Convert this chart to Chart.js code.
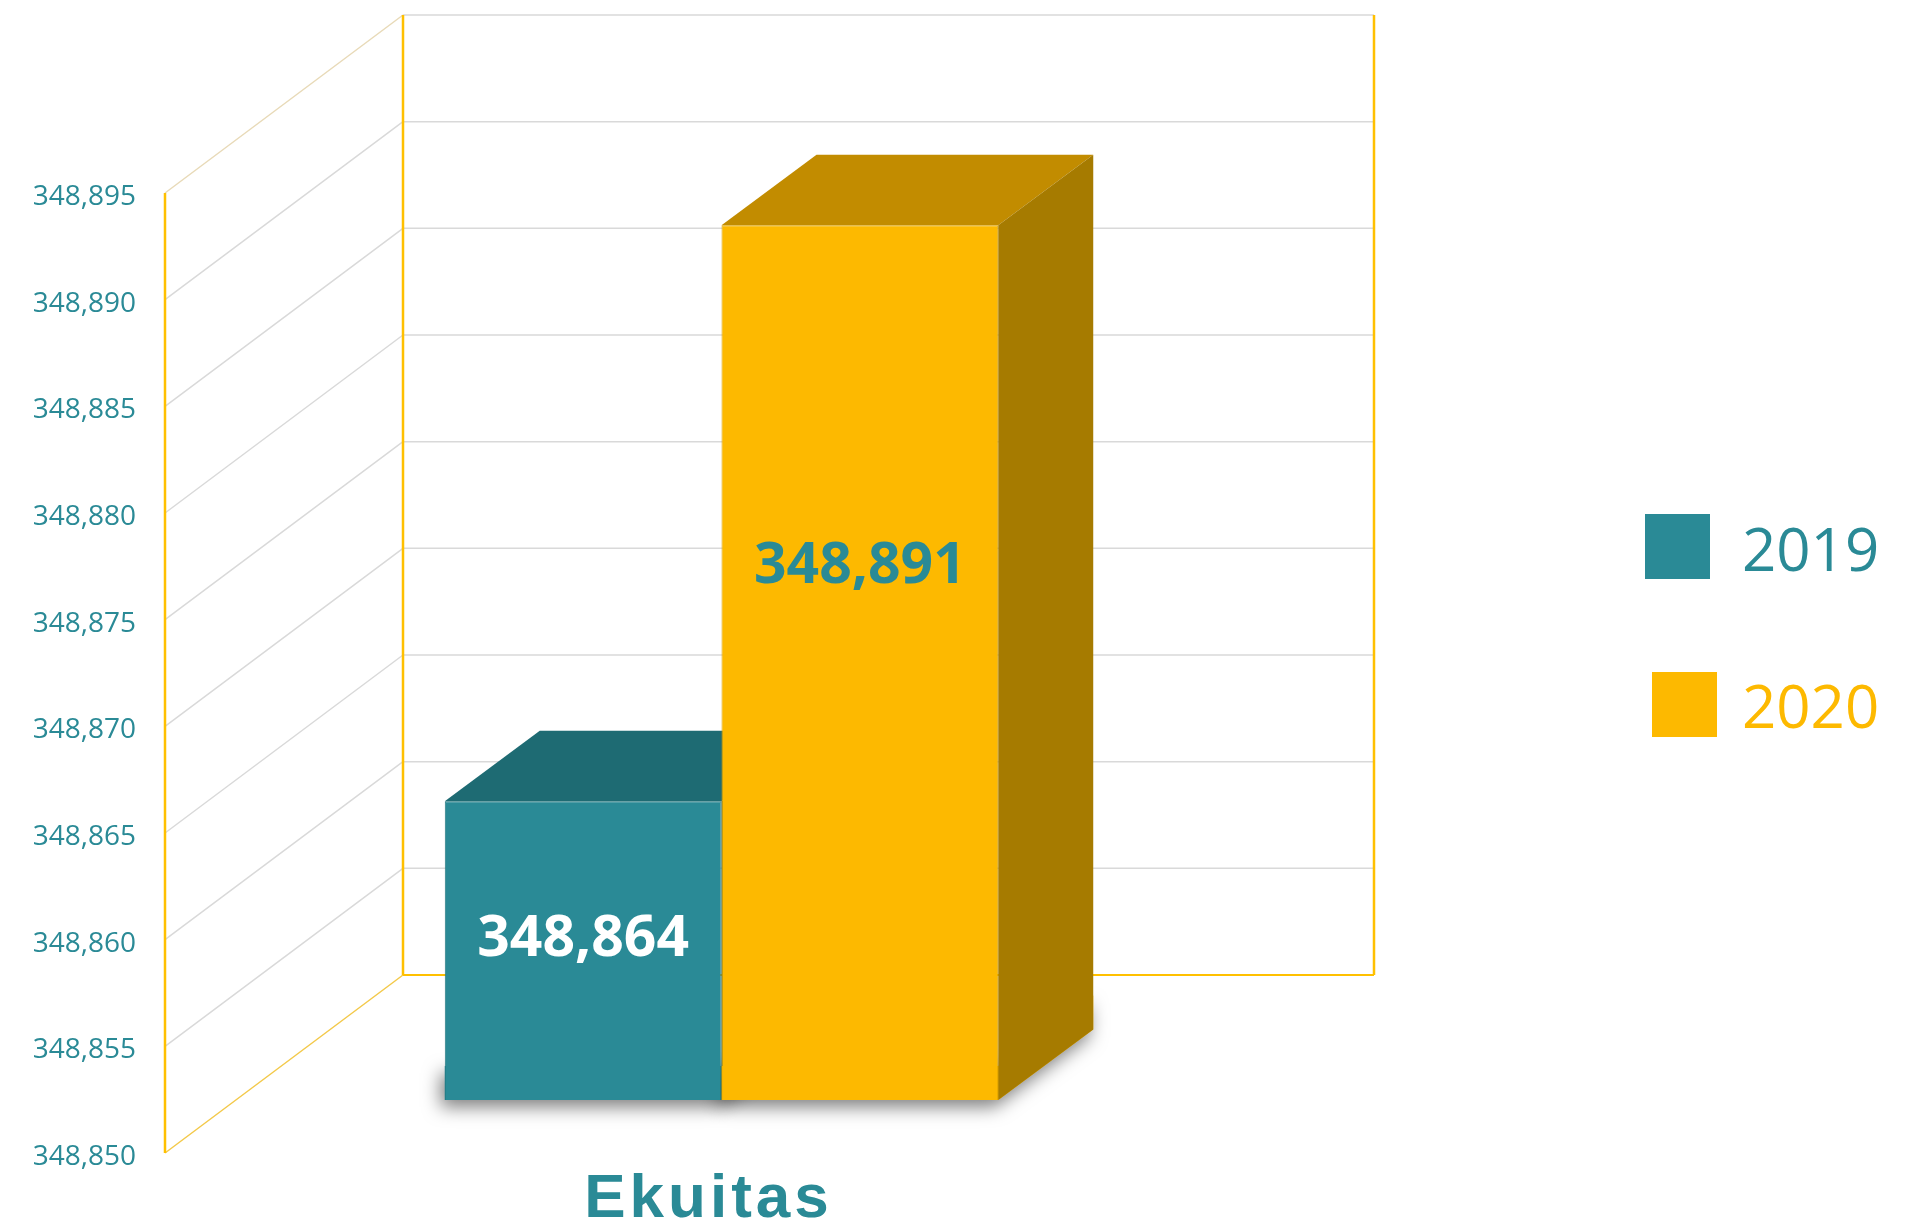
<!DOCTYPE html>
<html>
<head>
<meta charset="utf-8">
<script src="https://cdn.jsdelivr.net/npm/chart.js@4.4.1/dist/chart.umd.min.js"></script>
<style>
html, body { margin: 0; padding: 0; background: #fff; }
#wrap { width: 1914px; height: 1226px; position: relative; }
</style>
</head>
<body>
<div id="wrap"><canvas id="c"></canvas></div>
<script>
// ================= DATA =================
const categories = ['Ekuitas'];
const seriesNames = ['2019', '2020'];
const values2019 = [348864];
const values2020 = [348891];
const yMin = 348850;
const yMax = 348895;
const yStep = 5;

// ================= LOOK =================
const TEAL = '#2A8A96';
const GOLD = '#FDB900';
const faces = [
    { front: TEAL, border: '#23777f', top: '#1E6B73', side: '#17585f', label: '#ffffff' },
    { front: GOLD, border: '#dba100', top: '#C28C00', side: '#A67B00', label: TEAL }
];
const labelPos = [0.465, 0.39]; // where the value sits inside each bar (0 = top)

const WALL_DX = 238, WALL_DY = -178;  // floor / back wall depth
const BAR_DX = 71, BAR_DY = -53;      // bar row sits a bit inside the box
const CUBE_DX = 95, CUBE_DY = -70.5;  // depth of a bar

const fmt = v => Number(v).toLocaleString('en-US');

function poly(ctx, pts, fill) {
    ctx.beginPath();
    ctx.moveTo(pts[0][0], pts[0][1]);
    for (let i = 1; i < pts.length; i++) ctx.lineTo(pts[i][0], pts[i][1]);
    ctx.closePath();
    ctx.fillStyle = fill;
    ctx.fill();
}

function line(ctx, x0, y0, x1, y1, color, w) {
    ctx.beginPath();
    ctx.moveTo(x0, y0);
    ctx.lineTo(x1, y1);
    ctx.strokeStyle = color;
    ctx.lineWidth = w;
    ctx.stroke();
}

// ================= 3D PLUGIN =================
const box3d = {
    id: 'box3d',
    beforeDraw(chart) {
        // wide letter spacing for the category label only
        const xs = chart.scales.x;
        if (!xs._spaced) {
            const orig = xs.drawLabels.bind(xs);
            xs.drawLabels = (area) => {
                chart.ctx.save();
                chart.ctx.letterSpacing = '4px';
                orig(area);
                chart.ctx.restore();
            };
            xs._spaced = true;
        }
    },
    beforeDatasetsDraw(chart) {
        const { ctx, chartArea: a, scales: { y } } = chart;
        ctx.save();

        // walls / grid
        const n = y.ticks.length;
        y.ticks.forEach((t, i) => {
            const py = y.getPixelForValue(t.value);
            let diag = '#d9d9d9', back = '#d9d9d9', w = 1.5;
            if (i === 0) { diag = '#f3c94a'; back = '#FFC000'; w = 2; }
            if (i === n - 1) { diag = '#e8dab8'; }
            line(ctx, a.left, py, a.left + WALL_DX, py + WALL_DY, diag, 1.5);
            line(ctx, a.left + WALL_DX, py + WALL_DY, a.right + WALL_DX, py + WALL_DY, back, w);
        });
        const yTop = y.getPixelForValue(yMax), yBot = y.getPixelForValue(yMin);
        line(ctx, a.left, yTop, a.left, yBot, '#FFC000', 2.5);
        line(ctx, a.left + WALL_DX, yTop + WALL_DY, a.left + WALL_DX, yBot + WALL_DY, '#FFC000', 2.5);
        line(ctx, a.right + WALL_DX, yTop + WALL_DY, a.right + WALL_DX, yBot + WALL_DY, '#FFC000', 2.5);

        // soft shadow at the foot of each bar, then top/side faces
        chart.data.datasets.forEach((ds, di) => {
            const meta = chart.getDatasetMeta(di);
            meta.data.forEach(bar => {
                const x0 = bar.x - bar.width / 2 + BAR_DX;
                const x1 = bar.x + bar.width / 2 + BAR_DX;
                const yt = bar.y + BAR_DY;
                const yb = bar.base + BAR_DY;
                const f = faces[di];
                const h = Math.min(34, yb - yt);
                ctx.save();
                ctx.shadowColor = 'rgba(0,0,0,0.5)';
                ctx.shadowBlur = 18;
                ctx.shadowOffsetX = -4;
                ctx.shadowOffsetY = 7;
                poly(ctx, [[x0, yb - h], [x0, yb], [x1, yb], [x1 + CUBE_DX, yb + CUBE_DY],
                           [x1 + CUBE_DX, yb + CUBE_DY - h], [x1, yb - h]], f.front);
                ctx.restore();
                poly(ctx, [[x0, yt], [x1, yt], [x1 + CUBE_DX, yt + CUBE_DY], [x0 + CUBE_DX, yt + CUBE_DY]], f.top);
                poly(ctx, [[x1, yt], [x1 + CUBE_DX, yt + CUBE_DY], [x1 + CUBE_DX, yb + CUBE_DY], [x1, yb]], f.side);
            });
        });
        ctx.restore();

        // front faces are drawn by Chart.js, moved into the bar row
        ctx.save();
        ctx.translate(BAR_DX, BAR_DY);
    },
    afterDatasetsDraw(chart) {
        const ctx = chart.ctx;
        ctx.restore();

        // value labels
        ctx.save();
        ctx.textAlign = 'center';
        ctx.textBaseline = 'middle';
        ctx.font = 'bold 57px "Open Sans"';
        chart.data.datasets.forEach((ds, di) => {
            chart.getDatasetMeta(di).data.forEach((bar, i) => {
                const yt = bar.y + BAR_DY, yb = bar.base + BAR_DY;
                ctx.fillStyle = faces[di].label;
                ctx.fillText(fmt(ds.data[i]), bar.x + BAR_DX, yt + (yb - yt) * labelPos[di]);
            });
        });
        ctx.restore();
    },
    afterDraw(chart) {
        // legend on the right
        const ctx = chart.ctx;
        const items = [
            { box: [1645, 514], text: [1742, 571] },
            { box: [1652, 672], text: [1742, 728] }
        ];
        ctx.save();
        ctx.font = '60px "Open Sans"';
        ctx.textAlign = 'left';
        ctx.textBaseline = 'alphabetic';
        chart.data.datasets.forEach((ds, di) => {
            const it = items[di];
            ctx.fillStyle = faces[di].front;
            ctx.fillRect(it.box[0], it.box[1], 65, 65);
            ctx.fillText(ds.label, it.text[0], it.text[1]);
        });
        ctx.restore();
    }
};

// ================= CHART =================
Chart.defaults.font.family = '"Open Sans", "DejaVu Sans", sans-serif';

new Chart(document.getElementById('c'), {
    type: 'bar',
    data: {
        labels: categories,
        datasets: [
            { label: seriesNames[0], data: values2019, backgroundColor: faces[0].front, borderColor: faces[0].border, borderWidth: 1 },
            { label: seriesNames[1], data: values2020, backgroundColor: faces[1].front, borderColor: faces[1].border, borderWidth: 1 }
        ]
    },
    options: {
        responsive: true,
        maintainAspectRatio: false,
        animation: false,
        events: [],
        layout: { padding: { top: 193, right: 778, bottom: 0, left: 0 } },
        datasets: { bar: { categoryPercentage: 0.57, barPercentage: 1, base: yMin } },
        plugins: {
            legend: { display: false },
            tooltip: { enabled: false }
        },
        scales: {
            x: {
                grid: { display: false, drawTicks: false },
                border: { display: false },
                ticks: {
                    color: TEAL,
                    padding: 10,
                    labelOffset: 58,
                    font: { family: '"Liberation Sans", Arial, sans-serif', size: 62, weight: 'bold' }
                },
                afterFit(scale) { scale.height = 73; }
            },
            y: {
                min: yMin,
                max: yMax,
                grid: { display: false, drawTicks: false },
                border: { display: false },
                ticks: {
                    stepSize: yStep,
                    color: TEAL,
                    padding: 29,
                    labelOffset: 4,
                    font: { size: 28 },
                    callback: v => fmt(v)
                },
                afterFit(scale) { scale.width = 165; }
            }
        }
    },
    plugins: [box3d]
});
</script>
</body>
</html>
